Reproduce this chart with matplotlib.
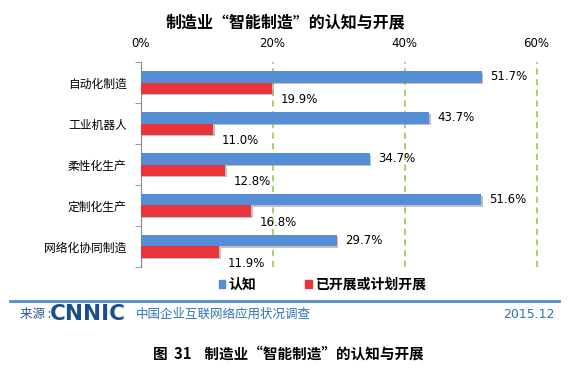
import numpy as np
import matplotlib
matplotlib.use('Agg')
import matplotlib.pyplot as plt
import matplotlib.patheffects as pe
from matplotlib.patches import Patch

plt.rcParams['font.family'] = ['Noto Sans CJK SC', 'DejaVu Sans']

categories = ['自动化制造', '工业机器人', '柔性化生产', '定制化生产', '网络化协同制造']
aware = [51.7, 43.7, 34.7, 51.6, 29.7]
started = [19.9, 11.0, 12.8, 16.8, 11.9]
series_names = ['认知', '已开展或计划开展']
xticks = [0, 20, 40, 60]
xtick_labels = ['0%', '20%', '40%', '60%']

BLUE = '#558ED5'
RED = '#E8343A'
GRID = '#8CC63F'

fig = plt.figure(figsize=(5.71, 3.70), dpi=100)
fig.patch.set_facecolor('white')

ax = fig.add_axes([0.2461, 0.2784, 0.6935, 0.554])
ax.set_facecolor('none')

y = np.arange(len(categories))
h = 0.27
shadow = [pe.SimplePatchShadow(offset=(1.2, -1.2), shadow_rgbFace='#999999', alpha=0.6), pe.Normal()]
b1 = ax.barh(y - h / 2, aware, height=h, color=BLUE, zorder=3)
b2 = ax.barh(y + h / 2, started, height=h, color=RED, zorder=3)
for bar in list(b1) + list(b2):
    bar.set_path_effects(shadow)

for yi, v in zip(y, aware):
    ax.annotate(f'{v:.1f}%', (v, yi - h / 2), xytext=(6, 0), textcoords='offset points',
                ha='left', va='center', fontsize=8.5, family='DejaVu Sans', zorder=4)
for yi, v in zip(y, started):
    ax.annotate(f'{v:.1f}%', (v, yi + h / 2), xytext=(6, -8), textcoords='offset points',
                ha='left', va='center', fontsize=8.5, family='DejaVu Sans', zorder=4)

ax.set_xlim(0, 60)
ax.set_ylim(len(categories) - 0.5, -0.5)
ax.xaxis.tick_top()
ax.set_xticks(xticks)
ax.set_xticklabels(xtick_labels, fontsize=8.5, family='DejaVu Sans')
ax.tick_params(axis='x', length=0, pad=9)
ax.set_yticks(y)
ax.set_yticklabels(categories, fontsize=8.5)
ax.tick_params(axis='y', which='major', length=0, pad=10)
ax.set_yticks(np.arange(-0.5, len(categories)), minor=True)
ax.tick_params(axis='y', which='minor', length=4, color='#888888')

for x in xticks[1:]:
    ax.axvline(x, color=GRID, linestyle=(0, (4, 3)), linewidth=1.1, zorder=1, clip_on=False)

for s in ['top', 'right', 'bottom']:
    ax.spines[s].set_visible(False)
ax.spines['left'].set_color('#888888')

fig.text(0.5, 0.94, '制造业“智能制造”的认知与开展', ha='center', va='center',
         fontsize=11.5, fontweight='bold')

handles = [Patch(color=BLUE), Patch(color=RED)]
fig.legend(handles, series_names, loc='center', bbox_to_anchor=(0.565, 0.23), ncol=2,
           frameon=False, handlelength=0.45, handleheight=0.45, handletextpad=0.3,
           columnspacing=3.5, prop={'size': 10, 'weight': 'bold'})

fig.add_artist(plt.Line2D([0.018, 0.979], [0.187, 0.187], color='#4F8BD0', linewidth=2))

fig.text(0.035, 0.150, '来源 :', fontsize=9, color='#2E5597', va='center')
fig.text(0.088, 0.150, 'CNNIC', fontsize=15.5, color='#1B4F8A', va='center',
         fontweight='heavy', family='DejaVu Sans')
fig.text(0.238, 0.150, '中国企业互联网络应用状况调查', fontsize=9, color='#2E75B6', va='center')
fig.text(0.972, 0.150, '2015.12', fontsize=9, color='#2E75B6', va='center', ha='right',
         family='DejaVu Sans')

fig.text(0.505, 0.045, '图  31    制造业“智能制造”的认知与开展', ha='center', va='center',
         fontsize=10.5, fontweight='bold')

fig.savefig('out.png', dpi=100)
